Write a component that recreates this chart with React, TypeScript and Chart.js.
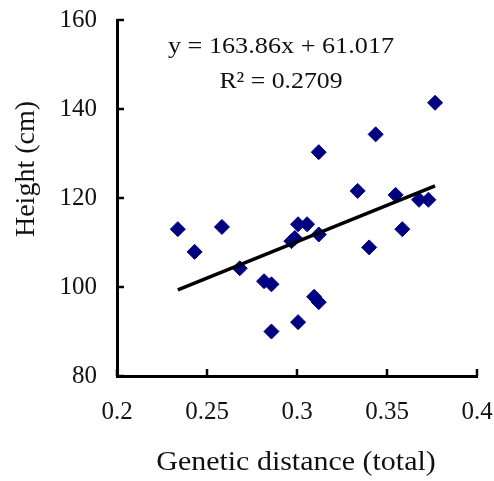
import React, { useEffect, useRef } from "react";
import { Chart, registerables } from "chart.js";

Chart.register(...registerables);

const geneticDistance = [
  0.2338, 0.2431, 0.2583, 0.2682, 0.2817, 0.2858, 0.2858, 0.2969, 0.2988, 0.3006,
  0.3056, 0.3121, 0.3006, 0.3095, 0.3121, 0.3337, 0.3401, 0.3548, 0.3585, 0.3678,
  0.373, 0.3121, 0.3437, 0.3767,
];
const heightCm = [
  113.0, 107.9, 113.5, 104.2, 101.3, 100.6, 90.0, 110.3, 111.0, 114.1,
  114.1, 111.8, 92.1, 97.8, 96.6, 121.6, 108.9, 120.7, 113.0, 119.6,
  119.6, 130.3, 134.3, 141.4,
];
const xTickValues = [0.2, 0.25, 0.3, 0.35, 0.4];
const yTickValues = [80, 100, 120, 140, 160];
const trendSlope = 163.86;
const trendIntercept = 61.017;
const trendX = [0.2338, 0.3767];
const equationText = "y = 163.86x + 61.017";
const r2Text = "R\u00B2 = 0.2709";
const xTitle = "Genetic distance (total)";
const yTitle = "Height (cm)";

const FONT = '"Liberation Serif", "Times New Roman", serif';
const TEXT = "#111";

function stretchedText(ctx: any, text: string, x: number, y: number, sx: number, rot = 0) {
  ctx.save();
  ctx.translate(x, y);
  if (rot) ctx.rotate(rot);
  ctx.scale(sx, 1);
  ctx.fillText(text, 0, 0);
  ctx.restore();
}

const extrasPlugin = {
  id: "extras",
  afterDraw(chart: any) {
    const ctx = chart.ctx;
    const xs = chart.scales.x;
    const ys = chart.scales.y;
    const area = chart.chartArea;
    ctx.save();
    // inward tick marks
    ctx.strokeStyle = "#000";
    ctx.lineWidth = 2.5;
    ctx.beginPath();
    xTickValues.forEach((v) => {
      const px = Math.round(xs.getPixelForValue(v));
      ctx.moveTo(px, area.bottom);
      ctx.lineTo(px, area.bottom - 7);
    });
    yTickValues.forEach((v) => {
      const py = Math.round(ys.getPixelForValue(v));
      ctx.moveTo(area.left, py);
      ctx.lineTo(area.left + 7, py);
    });
    ctx.stroke();
    ctx.fillStyle = TEXT;
    ctx.textAlign = "center";
    // equation
    ctx.textBaseline = "alphabetic";
    ctx.font = `23px ${FONT}`;
    stretchedText(ctx, equationText, 281, 53, 1.14);
    stretchedText(ctx, r2Text, 281, 88, 1.12);
    // axis titles
    ctx.textBaseline = "middle";
    ctx.font = `28px ${FONT}`;
    stretchedText(ctx, xTitle, 296, 463, 1.07);
    stretchedText(ctx, yTitle, 27, 169, 1.0, -Math.PI / 2);
    ctx.restore();
  },
};

function zeroPadding(s: any) {
  s.paddingTop = 0;
  s.paddingBottom = 0;
  s.paddingLeft = 0;
  s.paddingRight = 0;
}

export default function App() {
  const ref = useRef<HTMLCanvasElement>(null);
  useEffect(() => {
    if (!ref.current) return;
    const chart = new Chart(ref.current, {
      type: "scatter",
      data: {
        datasets: [
          {
            type: "scatter",
            data: geneticDistance.map((x, i) => ({ x, y: heightCm[i] })),
            pointStyle: "rectRot",
            pointRadius: 7.5,
            pointBorderWidth: 1,
            backgroundColor: "#000080",
            borderColor: "#000080",
            order: 2,
          },
          {
            type: "line",
            data: trendX.map((x) => ({ x, y: trendSlope * x + trendIntercept })),
            borderColor: "#000",
            borderWidth: 3.5,
            pointRadius: 0,
            fill: false,
            order: 1,
          } as any,
        ],
      },
      options: {
        responsive: false,
        animation: false,
        layout: { padding: { top: 20, right: 17, left: 0, bottom: 0 } },
        plugins: { legend: { display: false }, tooltip: { enabled: false } },
        scales: {
          x: {
            type: "linear",
            min: 0.2,
            max: 0.4,
            afterBuildTicks: (s: any) => {
              s.ticks = xTickValues.map((value) => ({ value }));
            },
            afterFit: (s: any) => {
              s.height = 105;
              zeroPadding(s);
            },
            ticks: {
              padding: 21,
              color: TEXT,
              font: { family: FONT, size: 25 },
              callback: (v: any) => String(Number(Number(v).toFixed(2))),
            },
            grid: { display: false, drawTicks: false },
            border: { display: true, color: "#000", width: 3 },
          },
          y: {
            type: "linear",
            min: 80,
            max: 160,
            afterBuildTicks: (s: any) => {
              s.ticks = yTickValues.map((value) => ({ value }));
            },
            afterFit: (s: any) => {
              s.width = 117;
              zeroPadding(s);
            },
            ticks: {
              padding: 20,
              color: TEXT,
              font: { family: FONT, size: 25 },
            },
            grid: { display: false, drawTicks: false },
            border: { display: true, color: "#000", width: 3 },
          },
        },
      },
      plugins: [extrasPlugin],
    });
    return () => chart.destroy();
  }, []);
  return (
    <div style={{ position: "fixed", left: 0, top: 0, width: 494, height: 481, background: "#fff" }}>
      <canvas ref={ref} width={494} height={481} />
    </div>
  );
}
